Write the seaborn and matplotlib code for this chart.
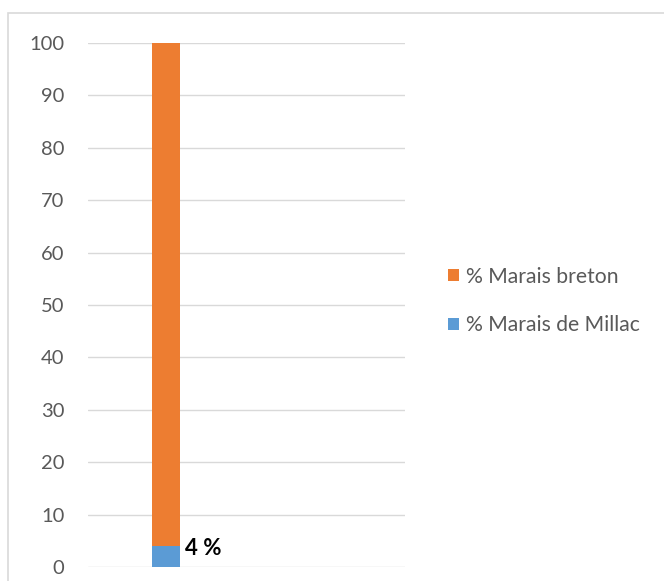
import numpy as np
import matplotlib
matplotlib.use('Agg')
import matplotlib.pyplot as plt
import pandas as pd
import seaborn as sns
from matplotlib.patches import Rectangle

# data
category = ['Marais']
pct_breton = [100]      # top of the stack (96 % + 4 %)
pct_millac = [4]
y_ticks = list(range(0, 101, 10))

df = pd.DataFrame({'cat': category, 'breton': pct_breton, 'millac': pct_millac})

sns.set_style('white')
plt.rcParams['font.family'] = ['Lato', 'DejaVu Sans']

fig = plt.figure(figsize=(6.64, 5.81), dpi=100)
ax = fig.add_axes([88/664, 1-567/581, (405-88)/664, (567-43)/581])

# outer frame (left/top visible only)
fig.patches.append(Rectangle((8/664, -0.1), 1.2, 1.1 - 13/581,
                             transform=fig.transFigure, fill=False,
                             edgecolor='#D9D9D9', linewidth=1.2))

sns.barplot(data=df, x='cat', y='breton', color='#ED7D31', width=0.4,
            saturation=1, linewidth=0, ax=ax, label='% Marais breton')
sns.barplot(data=df, x='cat', y='millac', color='#5B9BD5', width=0.4,
            saturation=1, linewidth=0, ax=ax, label='% Marais de Millac')
if ax.get_legend() is not None:
    ax.get_legend().remove()

ax.set_xlim(-1.11, 3.42)
ax.set_ylim(0, 100)
ax.set_yticks(y_ticks)
ax.set_xticks([])
ax.set_xlabel('')
ax.set_ylabel('')
ax.yaxis.grid(True, color='#D9D9D9', linewidth=1)
ax.set_axisbelow(True)
for s in ax.spines.values():
    s.set_visible(False)
ax.tick_params(axis='y', length=0, pad=17, labelsize=14.5, labelcolor='#595959')

# value label next to the blue segment
p = ax.patches[-1]
ax.annotate('4 %', xy=(p.get_x() + p.get_width(), p.get_height()),
            xytext=(4, -1.5), textcoords='offset points', ha='left', va='center',
            fontsize=16, fontweight='bold', color='black')

handles, labels = ax.get_legend_handles_labels()
leg = fig.legend(handles, labels, loc='center left', bbox_to_anchor=(429/664, 1-301/581),
                 frameon=False, fontsize=15.2, labelspacing=1.35, handlelength=0.5,
                 handleheight=0.5, handletextpad=0.35)
for t in leg.get_texts():
    t.set_color('#595959')

fig.savefig('out.png', dpi=100)
